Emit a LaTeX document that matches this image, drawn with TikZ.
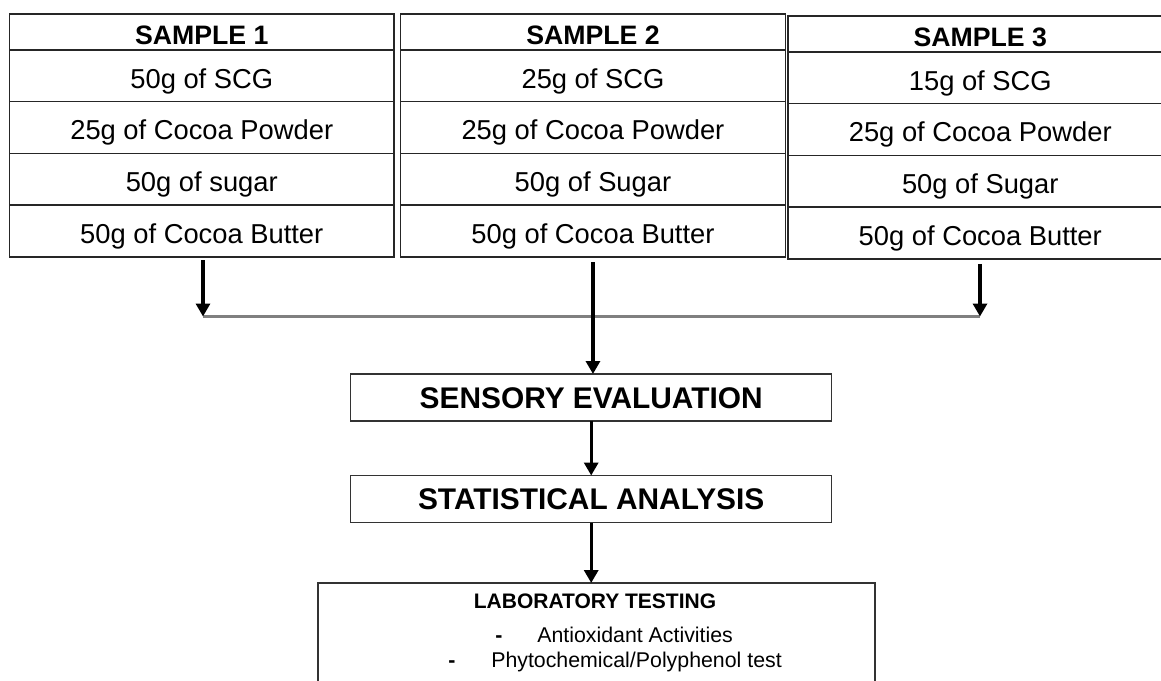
\documentclass[tikz,border=0pt]{standalone}
\usepackage{fontspec}
\setmainfont{Liberation Sans}
\usetikzlibrary{positioning,arrows.meta}

\tikzset{
  cell/.style={draw=black!85, line width=1.1pt, minimum width=288.4pt, minimum height=38.8pt,
    inner sep=0pt, outer sep=0pt, text height=18.5pt, text depth=0pt,
    font=\fontsize{20.5}{24}\selectfont},
  head/.style={cell, minimum height=27pt, text height=18.8pt, font=\bfseries\fontsize{20}{24}\selectfont},
  stage/.style={draw=black!80, line width=1.1pt, minimum width=360.75pt, minimum height=35.25pt,
    inner sep=0pt, outer sep=0pt, text height=16.1pt, text depth=0pt,
    font=\bfseries\fontsize{22.4}{26}\selectfont},
  labtext/.style={inner sep=0pt, font=\fontsize{16}{18}\selectfont},
  flow/.style={line width=2.4pt, -{Triangle[length=9.75pt,width=10.5pt]}},
  bus/.style={line width=1.9pt, gray},
}

\begin{document}
\begin{tikzpicture}[x=0.75pt,y=-0.75pt]
    \useasboundingbox (0,0) rectangle (1161,681);
    %sample tables
    \foreach \n/\lx/\ty/\scg/\sug in {1/9.5/14/50/sugar, 2/400.7/14/25/Sugar, 3/788/16/15/Sugar}{
        \node[head, anchor=north west] (head\n) at (\lx,\ty) {SAMPLE \n};
        \node[cell, below=0pt of head\n] (scg\n) {\scg g of SCG};
        \node[cell, below=0pt of scg\n] (cocoa\n) {25g of Cocoa Powder};
        \node[cell, below=0pt of cocoa\n] (sugar\n) {50g of \sug};
        \node[cell, below=0pt of sugar\n] (butter\n) {50g of Cocoa Butter};
    }
    %joining line
    \coordinate (busL) at (203,316.5);
    \coordinate (busR) at (980,316.5);
    \draw[bus] (busL) -- (busR);
    \draw[flow] ([yshift=-2.6pt]butter1.south -| busL) -- (busL);
    \draw[flow] ([yshift=-3.8pt]butter3.south -| busR) -- (busR);

    %stages
    \node[stage] (sens) at (591.2,397.5) {SENSORY EVALUATION};
    \node[stage] (stat) at (591.2,499) {STATISTICAL ANALYSIS};
    \node[draw=black!80, line width=1.1pt, minimum width=417.75pt, minimum height=100pt,
        outer sep=0pt, anchor=north] (lab) at (596.5,583) {};
    \node[labtext, anchor=base, font=\bfseries\fontsize{15.75}{18}\selectfont] (labtitle) at (595,608) {LABORATORY TESTING};
    \node[labtext, anchor=base, font=\bfseries\fontsize{16}{18}\selectfont] (dash1) at (499,642) {-};
    \node[labtext, anchor=base west] (anti) at (537,642) {Antioxidant Activities};
    \node[labtext, anchor=base, font=\bfseries\fontsize{16}{18}\selectfont] (dash2) at (452,667) {-};
    \node[labtext, anchor=base west] (phyto) at (491,667) {Phytochemical/Polyphenol test};

    %arrows down
    \draw[flow] ([yshift=-4pt]butter2.south) -- (butter2.south |- sens.north);
    \draw[flow] (sens.south) -- (stat.north);
    \draw[flow] (stat.south) -- (stat.south |- lab.north);
\end{tikzpicture}
\end{document}
